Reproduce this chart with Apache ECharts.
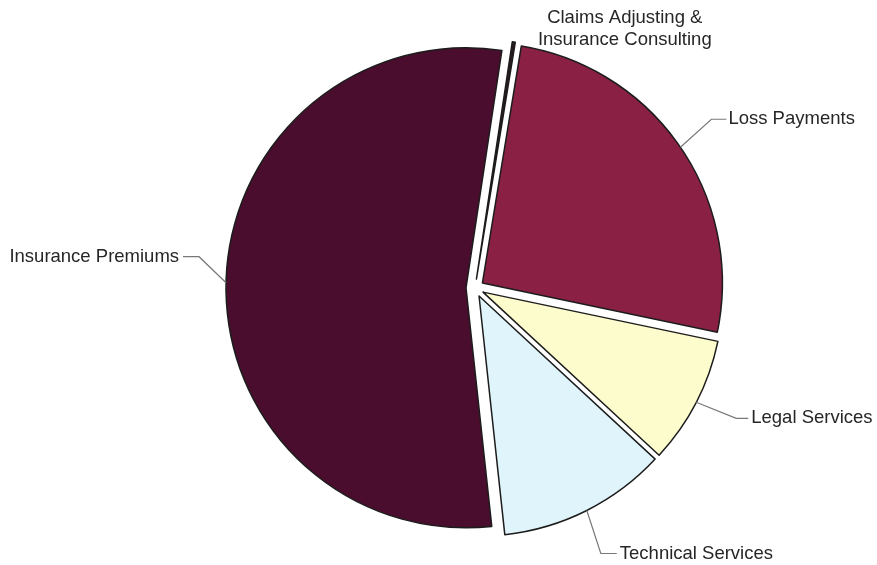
<!DOCTYPE html>
<html>
<head>
<meta charset="utf-8">
<title>Expense breakdown</title>
<script src="https://cdn.jsdelivr.net/npm/echarts@6/dist/echarts.min.js"></script>
<style>
  html, body { margin: 0; padding: 0; background: #ffffff; }
  #chart { width: 877px; height: 565px; }
</style>
</head>
<body>
<div id="chart"></div>
<script>
// Slice names, clockwise from the top
const categories = [
  'Claims Adjusting &\nInsurance Consulting',
  'Loss Payments',
  'Legal Services',
  'Technical Services',
  'Insurance Premiums'
];
// Share of total spend (%)
const shares = [0.2, 25.7, 8.6, 11.4, 54.1];

// Fill colours, one per slice
const sliceColors = ['#2a1a20', '#8a2144', '#fdfccd', '#e0f5fb', '#4a0d2e'];

// Shared pie geometry
const pieCenter = [475, 288];
const pieRadius = 240;
const pieStart = 81.4;
const explode = 9;

// Leader-line shape per label: elbow offset from the slice's outer edge,
// horizontal run, and gap between line end and text
const guides = [
  { dx: 111, dy: -13, h: 0, gap: 0, centered: true },
  { dx: 31, dy: -28, h: 15, gap: 2 },
  { dx: 40, dy: 16, h: 12, gap: 3 },
  { dx: 14, dy: 43, h: 16, gap: 3 },
  { dx: -27, dy: -26, h: -16, gap: 4 }
];

const chart = echarts.init(document.getElementById('chart'), null, { renderer: 'canvas' });

// Exploded slices
const sliceData = categories.map((name, i) => ({
  name: name,
  value: shares[i],
  selected: true,
  itemStyle: { color: sliceColors[i] }
}));

// Same slices, unexploded and invisible, carrying the labels
const labelData = categories.map((name, i) => ({
  name: name,
  value: shares[i],
  labelLine: guides[i].centered ? { lineStyle: { width: 0, opacity: 0 } } : undefined
}));

function placeLabel(params) {
  const g = guides[params.dataIndex];
  const pts = params.labelLinePoints;
  if (!pts) return {};
  // first default segment runs radially: use it to step out to the exploded edge
  const vx = pts[1][0] - pts[0][0];
  const vy = pts[1][1] - pts[0][1];
  const len = Math.sqrt(vx * vx + vy * vy) || 1;
  const a = [pts[0][0] + explode * vx / len, pts[0][1] + explode * vy / len];
  if (g.centered) {
    return {
      x: a[0] + g.dx,
      y: a[1] + g.dy,
      align: 'center',
      verticalAlign: 'middle'
    };
  }
  const e = [a[0] + g.dx, a[1] + g.dy];
  const t = [e[0] + g.h, e[1]];
  const side = g.h >= 0 ? 1 : -1;
  return {
    x: t[0] + side * g.gap,
    y: t[1],
    align: side > 0 ? 'left' : 'right',
    verticalAlign: 'middle',
    labelLinePoints: [a, e, t]
  };
}

chart.setOption({
  animation: false,
  backgroundColor: '#ffffff',
  series: [
    {
      type: 'pie',
      center: pieCenter,
      radius: pieRadius,
      startAngle: pieStart,
      clockwise: true,
      selectedMode: 'multiple',
      selectedOffset: explode,
      silent: true,
      data: sliceData,
      itemStyle: { borderColor: '#1c1c1c', borderWidth: 1.5 },
      select: { itemStyle: { borderColor: '#1c1c1c', borderWidth: 1.5 } },
      emphasis: { disabled: true, scale: false },
      label: { show: false },
      labelLine: { show: false }
    },
    {
      type: 'pie',
      center: pieCenter,
      radius: pieRadius,
      startAngle: pieStart,
      clockwise: true,
      silent: true,
      avoidLabelOverlap: false,
      data: labelData,
      z: 3,
      itemStyle: { color: 'rgba(0,0,0,0)', borderWidth: 0 },
      emphasis: { disabled: true, scale: false },
      label: {
        show: true,
        position: 'outside',
        fontFamily: 'Liberation Sans, Arial, sans-serif',
        fontSize: 18.5,
        color: '#262626',
        lineHeight: 22.5,
        formatter: '{b}'
      },
      labelLine: {
        show: true,
        length: 20,
        length2: 15,
        lineStyle: { color: '#787878', width: 1.2 }
      },
      labelLayout: placeLabel
    }
  ]
});
</script>
</body>
</html>
